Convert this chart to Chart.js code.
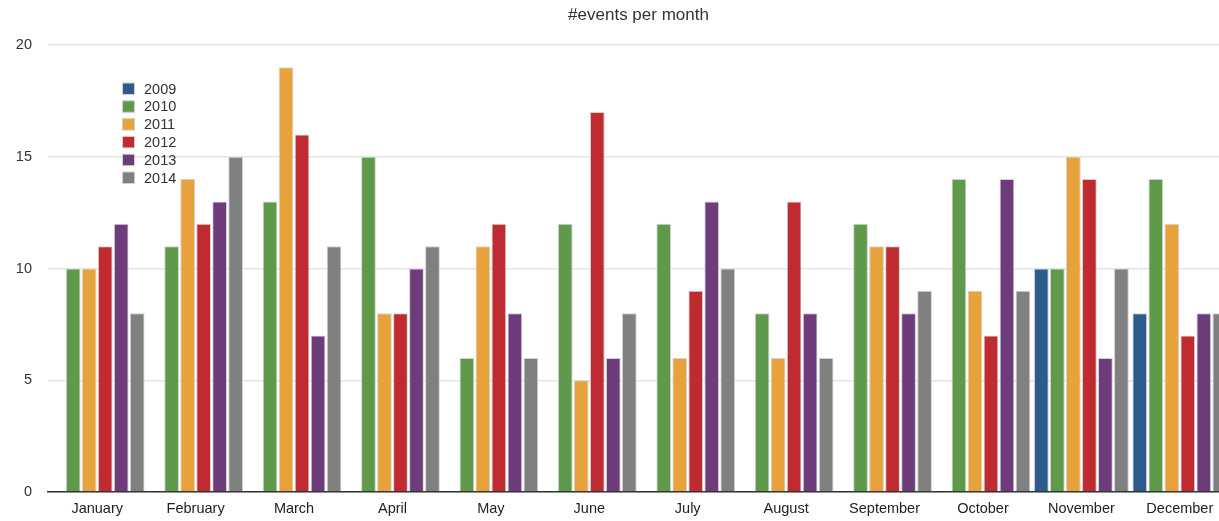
<!DOCTYPE html>
<html>
<head>
<meta charset="utf-8">
<script src="https://cdn.jsdelivr.net/npm/chart.js@4"></script>
<style>
    html, body { margin: 0; padding: 0; background: #fff; overflow: hidden; }
    #wrap { position: relative; width: 1232px; height: 521px; }
</style>
</head>
<body>
<div id="wrap"><canvas id="eventsChart"></canvas></div>
<script>
const months = ['January', 'February', 'March', 'April', 'May', 'June',
    'July', 'August', 'September', 'October', 'November', 'December'];
const years = ['2009', '2010', '2011', '2012', '2013', '2014'];

// one array per year, null = no bar
const events2009 = [null, null, null, null, null, null, null, null, null, null, 10, 8];
const events2010 = [10, 11, 13, 15, 6, 12, 12, 8, 12, 14, 10, 14];
const events2011 = [10, 14, 19, 8, 11, 5, 6, 6, 11, 9, 15, 12];
const events2012 = [11, 12, 16, 8, 12, 17, 9, 13, 11, 7, 14, 7];
const events2013 = [12, 13, 7, 10, 8, 6, 13, 8, 8, 14, 6, 8];
const events2014 = [8, 15, 11, 11, 6, 8, 10, 6, 9, 9, 10, 8];

const yTicks = [0, 5, 10, 15, 20];
const colors = ['#2e5a8c', '#5f9a4b', '#e8a23b', '#bf2b30', '#6e3b7b', '#7f807f'];

const seriesValues = [events2009, events2010, events2011, events2012, events2013, events2014];

const FONT = "'Liberation Sans', Arial, Helvetica, sans-serif";

// legend drawn inside the plot, top-left
const insideLegend = {
    id: 'insideLegend',
    afterDraw(chart) {
        const ctx = chart.ctx;
        ctx.save();
        ctx.font = '14.5px ' + FONT;
        ctx.textBaseline = 'middle';
        chart.data.datasets.forEach((ds, i) => {
            const y = 83 + i * 17.8;
            ctx.fillStyle = ds.backgroundColor;
            ctx.fillRect(122.5, y, 12, 11.5);
            ctx.strokeStyle = '#d0d0d0';
            ctx.lineWidth = 1;
            ctx.strokeRect(122.5, y, 12, 11.5);
            ctx.fillStyle = '#333';
            ctx.fillText(ds.label, 144, y + 6.5);
        });
        ctx.restore();
    }
};

const ctx = document.getElementById('eventsChart').getContext('2d');
new Chart(ctx, {
    type: 'bar',
    data: {
        labels: months,
        datasets: years.map((year, i) => ({
            label: year,
            data: seriesValues[i],
            backgroundColor: colors[i],
            borderColor: '#d2d2d2',
            borderWidth: 1,
            barPercentage: 0.92,
            categoryPercentage: 0.976
        }))
    },
    options: {
        responsive: true,
        maintainAspectRatio: false,
        animation: false,
        layout: { padding: { left: 0, right: 3, top: 0, bottom: 5 } },
        plugins: {
            legend: { display: false },
            tooltip: { enabled: false },
            title: {
                display: true,
                text: '#events per month',
                fullSize: false,
                color: '#333',
                font: { family: FONT, size: 17, weight: 'normal' },
                padding: { top: 5, bottom: 19.6 }
            }
        },
        scales: {
            x: {
                afterFit: scale => { scale.height = 24; },
                grid: { display: false, drawTicks: false },
                border: { display: true, color: '#333', width: 1.5 },
                ticks: {
                    color: '#222',
                    padding: 8,
                    maxRotation: 0,
                    autoSkip: false,
                    font: { family: FONT, size: 14.5 }
                }
            },
            y: {
                min: 0,
                max: 20,
                afterFit: scale => { scale.width = 48; },
                afterBuildTicks: scale => { scale.ticks = yTicks.map(v => ({ value: v })); },
                grid: { color: '#e5e5e5', lineWidth: 1.5, drawTicks: false },
                border: { display: false },
                ticks: {
                    color: '#333',
                    padding: 16,
                    font: { family: FONT, size: 14.5 }
                }
            }
        }
    },
    plugins: [insideLegend]
});
</script>
</body>
</html>
